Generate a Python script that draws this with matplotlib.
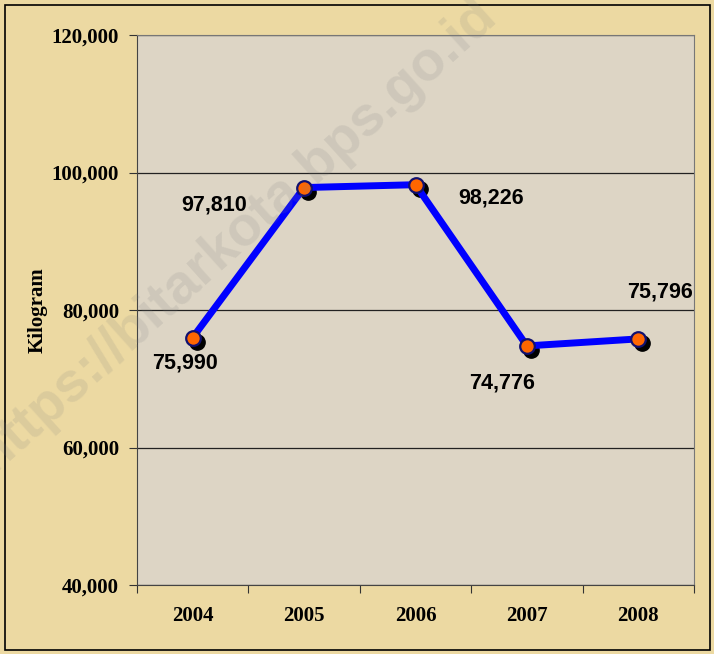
import matplotlib
matplotlib.use("Agg")
import matplotlib.pyplot as plt
import matplotlib.transforms as mtransforms
from matplotlib.patches import Rectangle

years = ["2004", "2005", "2006", "2007", "2008"]
kg = [75990, 97810, 98226, 74776, 75796]
labels = ["75,990", "97,810", "98,226", "74,776", "75,796"]
yticks = [40000, 60000, 80000, 100000, 120000]
ytick_labels = ["40,000", "60,000", "80,000", "100,000", "120,000"]

# label offsets in pixels (dx, dy) relative to each point
label_offsets = [(-8, -25), (-90, -17), (76, -13), (-25, -37), (22, 47)]

fig = plt.figure(figsize=(7.14, 6.54), dpi=100)
fig.patch.set_facecolor("#ecd9a2")
fig.patches.append(Rectangle((5 / 714, 4 / 654), 705 / 714, 645 / 654,
                             transform=fig.transFigure, fill=False,
                             edgecolor="black", linewidth=1.2))

ax = fig.add_axes([137 / 714, 69 / 654, 557 / 714, 550 / 654])
ax.set_facecolor("#ddd5c5")

x = list(range(len(years)))
ax.set_xlim(-0.5, len(years) - 0.5)
ax.set_ylim(40000, 120000)

ax.set_yticks(yticks)
ax.set_yticklabels(ytick_labels, fontfamily="Liberation Serif",
                   fontweight="bold", fontsize=15)
ax.set_xticks([i - 0.5 for i in range(len(years) + 1)])
ax.set_xticklabels([])
ax.set_xticks(x, minor=True)
ax.set_xticklabels(years, minor=True, fontfamily="Liberation Serif",
                   fontweight="bold", fontsize=15)
ax.tick_params(axis="x", which="minor", length=0, pad=15)
ax.tick_params(axis="x", which="major", length=6, color="#333333")
ax.tick_params(axis="y", length=6, color="#333333", pad=7)

ax.grid(axis="y", color="#222222", linewidth=0.9)
ax.set_axisbelow(True)
for side in ["top", "right"]:
    ax.spines[side].set_color("#777777")
for side in ["left", "bottom"]:
    ax.spines[side].set_color("#444444")

ax.set_ylabel("Kilogram", fontfamily="Liberation Serif", fontweight="bold",
              fontsize=15, labelpad=3)

# shadow markers
shadow = mtransforms.offset_copy(ax.transData, fig=fig, x=4, y=-4, units="dots")
ax.plot(x, kg, linestyle="none", marker="o", markersize=11,
        color="black", transform=shadow, zorder=3)
ax.plot(x, kg, color="#0000ff", linewidth=5, zorder=4)
ax.plot(x, kg, linestyle="none", marker="o", markersize=10.5,
        markerfacecolor="#ff6600", markeredgecolor="#101070",
        markeredgewidth=1.6, zorder=5)

for xi, yi, lab, (dx, dy) in zip(x, kg, labels, label_offsets):
    ax.annotate(lab, (xi, yi), xytext=(dx * 0.72, dy * 0.72),
                textcoords="offset points", ha="center", va="center",
                fontfamily="Liberation Sans", fontweight="bold", fontsize=15.5,
                color="black", zorder=6)

fig.text(0.33, 0.64, "https://bitarkota.bps.go.id", rotation=42,
         fontfamily="Liberation Sans", fontweight="bold", fontsize=40,
         color="#808080", alpha=0.16, ha="center", va="center", zorder=10)

fig.savefig("out.png", dpi=100, facecolor=fig.get_facecolor())
